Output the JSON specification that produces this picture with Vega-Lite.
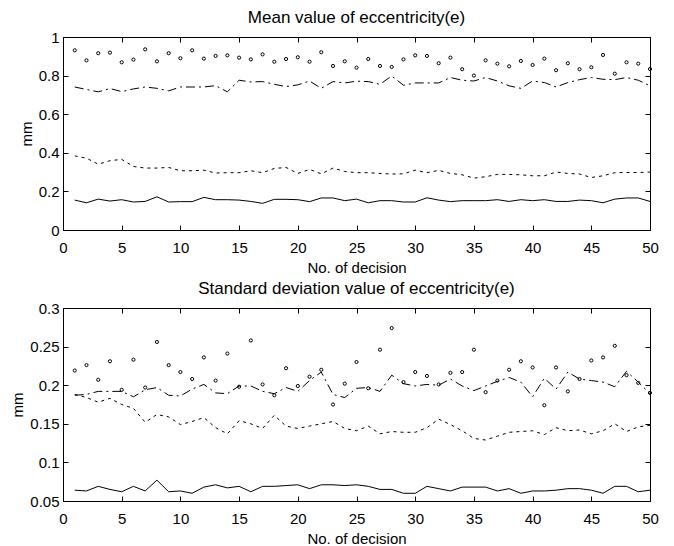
{
  "$schema": "https://vega.github.io/schema/vega-lite/v6.json",
  "background": "white",
  "padding": {"left": 10, "top": 8, "right": 5, "bottom": 2},
  "spacing": 3,
  "config": {
    "font": "Liberation Sans",
    "view": {"stroke": "black", "strokeWidth": 1},
    "axis": {
      "grid": false,
      "domain": false,
      "tickColor": "black",
      "tickSize": -5,
      "labelColor": "black",
      "labelFontSize": 15,
      "labelOverlap": false,
      "labelFlush": false,
      "titleColor": "black",
      "titleFontSize": 15,
      "titleFontWeight": "normal"
    },
    "axisX": {"labelPadding": 15},
    "axisY": {"labelPadding": 9},
    "title": {"fontSize": 17, "fontWeight": "normal", "color": "black", "offset": 3},
    "style": {"group-title": {"fontSize": 17, "fontWeight": "normal"}}
  },
  "datasets": {
    "mean": [
      {"x":1,"a":0.931,"b":0.741,"c":0.384,"d":0.155},
      {"x":2,"a":0.879,"b":0.728,"c":0.372,"d":0.141},
      {"x":3,"a":0.916,"b":0.716,"c":0.341,"d":0.160},
      {"x":4,"a":0.919,"b":0.733,"c":0.359,"d":0.150},
      {"x":5,"a":0.869,"b":0.717,"c":0.366,"d":0.157},
      {"x":6,"a":0.883,"b":0.731,"c":0.329,"d":0.145},
      {"x":7,"a":0.936,"b":0.741,"c":0.321,"d":0.148},
      {"x":8,"a":0.874,"b":0.734,"c":0.321,"d":0.172},
      {"x":9,"a":0.916,"b":0.721,"c":0.324,"d":0.145},
      {"x":10,"a":0.890,"b":0.741,"c":0.307,"d":0.147},
      {"x":11,"a":0.931,"b":0.741,"c":0.307,"d":0.147},
      {"x":12,"a":0.888,"b":0.741,"c":0.310,"d":0.169},
      {"x":13,"a":0.902,"b":0.748,"c":0.295,"d":0.157},
      {"x":14,"a":0.905,"b":0.716,"c":0.297,"d":0.157},
      {"x":15,"a":0.893,"b":0.776,"c":0.297,"d":0.155},
      {"x":16,"a":0.884,"b":0.767,"c":0.307,"d":0.148},
      {"x":17,"a":0.910,"b":0.769,"c":0.297,"d":0.138},
      {"x":18,"a":0.872,"b":0.755,"c":0.319,"d":0.159},
      {"x":19,"a":0.886,"b":0.743,"c":0.324,"d":0.159},
      {"x":20,"a":0.895,"b":0.752,"c":0.293,"d":0.157},
      {"x":21,"a":0.872,"b":0.772,"c":0.314,"d":0.147},
      {"x":22,"a":0.921,"b":0.734,"c":0.291,"d":0.166},
      {"x":23,"a":0.850,"b":0.769,"c":0.321,"d":0.166},
      {"x":24,"a":0.874,"b":0.762,"c":0.303,"d":0.152},
      {"x":25,"a":0.841,"b":0.771,"c":0.297,"d":0.160},
      {"x":26,"a":0.886,"b":0.769,"c":0.297,"d":0.141},
      {"x":27,"a":0.850,"b":0.755,"c":0.293,"d":0.152},
      {"x":28,"a":0.845,"b":0.798,"c":0.290,"d":0.152},
      {"x":29,"a":0.884,"b":0.750,"c":0.291,"d":0.145},
      {"x":30,"a":0.905,"b":0.762,"c":0.310,"d":0.145},
      {"x":31,"a":0.902,"b":0.762,"c":0.297,"d":0.167},
      {"x":32,"a":0.864,"b":0.762,"c":0.309,"d":0.155},
      {"x":33,"a":0.893,"b":0.790,"c":0.293,"d":0.147},
      {"x":34,"a":0.833,"b":0.776,"c":0.286,"d":0.152},
      {"x":35,"a":0.800,"b":0.772,"c":0.269,"d":0.152},
      {"x":36,"a":0.879,"b":0.790,"c":0.276,"d":0.152},
      {"x":37,"a":0.862,"b":0.772,"c":0.288,"d":0.157},
      {"x":38,"a":0.848,"b":0.747,"c":0.288,"d":0.148},
      {"x":39,"a":0.876,"b":0.734,"c":0.286,"d":0.157},
      {"x":40,"a":0.855,"b":0.772,"c":0.281,"d":0.152},
      {"x":41,"a":0.888,"b":0.764,"c":0.281,"d":0.157},
      {"x":42,"a":0.828,"b":0.741,"c":0.300,"d":0.148},
      {"x":43,"a":0.864,"b":0.764,"c":0.293,"d":0.148},
      {"x":44,"a":0.833,"b":0.779,"c":0.290,"d":0.155},
      {"x":45,"a":0.843,"b":0.790,"c":0.272,"d":0.152},
      {"x":46,"a":0.907,"b":0.781,"c":0.281,"d":0.141},
      {"x":47,"a":0.810,"b":0.779,"c":0.297,"d":0.160},
      {"x":48,"a":0.869,"b":0.790,"c":0.298,"d":0.166},
      {"x":49,"a":0.862,"b":0.776,"c":0.298,"d":0.166},
      {"x":50,"a":0.834,"b":0.747,"c":0.300,"d":0.148}
    ],
    "std": [
      {"x":1,"a":0.219,"b":0.187,"c":0.188,"d":0.064},
      {"x":2,"a":0.226,"b":0.188,"c":0.184,"d":0.063},
      {"x":3,"a":0.207,"b":0.192,"c":0.178,"d":0.069},
      {"x":4,"a":0.231,"b":0.192,"c":0.183,"d":0.065},
      {"x":5,"a":0.194,"b":0.192,"c":0.175,"d":0.062},
      {"x":6,"a":0.233,"b":0.185,"c":0.170,"d":0.069},
      {"x":7,"a":0.197,"b":0.194,"c":0.152,"d":0.063},
      {"x":8,"a":0.256,"b":0.197,"c":0.162,"d":0.077},
      {"x":9,"a":0.226,"b":0.187,"c":0.159,"d":0.062},
      {"x":10,"a":0.217,"b":0.186,"c":0.149,"d":0.063},
      {"x":11,"a":0.208,"b":0.195,"c":0.153,"d":0.060},
      {"x":12,"a":0.236,"b":0.201,"c":0.158,"d":0.068},
      {"x":13,"a":0.206,"b":0.190,"c":0.145,"d":0.071},
      {"x":14,"a":0.241,"b":0.189,"c":0.137,"d":0.067},
      {"x":15,"a":0.198,"b":0.199,"c":0.154,"d":0.069},
      {"x":16,"a":0.258,"b":0.199,"c":0.150,"d":0.062},
      {"x":17,"a":0.201,"b":0.192,"c":0.144,"d":0.069},
      {"x":18,"a":0.187,"b":0.189,"c":0.161,"d":0.069},
      {"x":19,"a":0.222,"b":0.197,"c":0.147,"d":0.070},
      {"x":20,"a":0.199,"b":0.192,"c":0.144,"d":0.071},
      {"x":21,"a":0.211,"b":0.206,"c":0.147,"d":0.066},
      {"x":22,"a":0.220,"b":0.217,"c":0.150,"d":0.071},
      {"x":23,"a":0.175,"b":0.188,"c":0.153,"d":0.071},
      {"x":24,"a":0.202,"b":0.184,"c":0.144,"d":0.070},
      {"x":25,"a":0.230,"b":0.196,"c":0.141,"d":0.071},
      {"x":26,"a":0.196,"b":0.197,"c":0.147,"d":0.069},
      {"x":27,"a":0.246,"b":0.192,"c":0.137,"d":0.065},
      {"x":28,"a":0.274,"b":0.213,"c":0.140,"d":0.065},
      {"x":29,"a":0.204,"b":0.202,"c":0.139,"d":0.060},
      {"x":30,"a":0.217,"b":0.199,"c":0.139,"d":0.060},
      {"x":31,"a":0.212,"b":0.201,"c":0.145,"d":0.069},
      {"x":32,"a":0.201,"b":0.200,"c":0.156,"d":0.066},
      {"x":33,"a":0.216,"b":0.208,"c":0.149,"d":0.063},
      {"x":34,"a":0.217,"b":0.199,"c":0.141,"d":0.068},
      {"x":35,"a":0.246,"b":0.193,"c":0.131,"d":0.068},
      {"x":36,"a":0.191,"b":0.199,"c":0.129,"d":0.068},
      {"x":37,"a":0.206,"b":0.205,"c":0.134,"d":0.063},
      {"x":38,"a":0.220,"b":0.210,"c":0.139,"d":0.066},
      {"x":39,"a":0.231,"b":0.204,"c":0.140,"d":0.060},
      {"x":40,"a":0.223,"b":0.185,"c":0.141,"d":0.063},
      {"x":41,"a":0.174,"b":0.209,"c":0.136,"d":0.063},
      {"x":42,"a":0.223,"b":0.195,"c":0.145,"d":0.064},
      {"x":43,"a":0.192,"b":0.217,"c":0.141,"d":0.066},
      {"x":44,"a":0.208,"b":0.208,"c":0.142,"d":0.066},
      {"x":45,"a":0.232,"b":0.206,"c":0.137,"d":0.064},
      {"x":46,"a":0.236,"b":0.204,"c":0.141,"d":0.060},
      {"x":47,"a":0.251,"b":0.198,"c":0.150,"d":0.069},
      {"x":48,"a":0.213,"b":0.218,"c":0.140,"d":0.069},
      {"x":49,"a":0.203,"b":0.204,"c":0.146,"d":0.062},
      {"x":50,"a":0.190,"b":0.189,"c":0.148,"d":0.064}
    ]
  },
  "vconcat": [
    {
      "title": {"text": "Mean value of eccentricity(e)", "fontSize": 17, "fontWeight": "normal", "color": "black", "offset": 3},
      "width": 587,
      "height": 193,
      "data": {"name": "mean"},
      "resolve": {"axis": {"x": "independent", "y": "independent"}},
      "layer": [
        {"mark": {"type": "line", "color": "black", "strokeWidth": 1},
         "encoding": {
           "x": {"field": "x", "type": "quantitative", "scale": {"domain": [0, 50], "nice": false},
                 "axis": {"values": [0,5,10,15,20,25,30,35,40,45,50], "title": "No. of decision", "titlePadding": 5, "labelOverlap": false}},
           "y": {"field": "d", "type": "quantitative", "scale": {"domain": [0, 1], "nice": false},
                 "axis": {"values": [0,0.2,0.4,0.6,0.8,1], "format": "~g", "title": "mm", "titlePadding": 4, "labelOverlap": false}}}},
        {"mark": {"type": "line", "color": "black", "strokeWidth": 1, "strokeDash": [3, 4]},
         "encoding": {"x": {"field": "x", "type": "quantitative", "axis": null},
                      "y": {"field": "c", "type": "quantitative", "axis": null}}},
        {"mark": {"type": "line", "color": "black", "strokeWidth": 1, "strokeDash": [9, 4, 2, 4]},
         "encoding": {"x": {"field": "x", "type": "quantitative", "axis": null},
                      "y": {"field": "b", "type": "quantitative", "axis": null}}},
        {"mark": {"type": "point", "shape": "circle", "size": 10, "color": "black", "filled": false, "strokeWidth": 1, "opacity": 1},
         "encoding": {"x": {"field": "x", "type": "quantitative", "axis": null},
                      "y": {"field": "a", "type": "quantitative", "axis": null}}},
        {"mark": {"type": "point", "opacity": 0},
         "encoding": {"x": {"field": "x", "type": "quantitative", "axis": {"orient": "top", "values": [0,5,10,15,20,25,30,35,40,45,50], "labels": false, "title": null}},
                      "y": {"field": "d", "type": "quantitative", "axis": {"orient": "right", "values": [0,0.2,0.4,0.6,0.8,1], "labels": false, "title": null}}}}
      ]
    },
    {
      "title": {"text": "Standard deviation value of eccentricity(e)", "fontSize": 17, "fontWeight": "normal", "color": "black", "offset": 3},
      "width": 587,
      "height": 193,
      "data": {"name": "std"},
      "resolve": {"axis": {"x": "independent", "y": "independent"}},
      "layer": [
        {"mark": {"type": "line", "color": "black", "strokeWidth": 1},
         "encoding": {
           "x": {"field": "x", "type": "quantitative", "scale": {"domain": [0, 50], "nice": false},
                 "axis": {"values": [0,5,10,15,20,25,30,35,40,45,50], "title": "No. of decision", "titlePadding": 5, "labelOverlap": false}},
           "y": {"field": "d", "type": "quantitative", "scale": {"domain": [0.05, 0.3], "nice": false},
                 "axis": {"values": [0.05,0.1,0.15,0.2,0.25,0.3], "format": "~g", "title": "mm", "titlePadding": 4, "labelOverlap": false}}}},
        {"mark": {"type": "line", "color": "black", "strokeWidth": 1, "strokeDash": [3, 4]},
         "encoding": {"x": {"field": "x", "type": "quantitative", "axis": null},
                      "y": {"field": "c", "type": "quantitative", "axis": null}}},
        {"mark": {"type": "line", "color": "black", "strokeWidth": 1, "strokeDash": [9, 4, 2, 4]},
         "encoding": {"x": {"field": "x", "type": "quantitative", "axis": null},
                      "y": {"field": "b", "type": "quantitative", "axis": null}}},
        {"mark": {"type": "point", "shape": "circle", "size": 10, "color": "black", "filled": false, "strokeWidth": 1, "opacity": 1},
         "encoding": {"x": {"field": "x", "type": "quantitative", "axis": null},
                      "y": {"field": "a", "type": "quantitative", "axis": null}}},
        {"mark": {"type": "point", "opacity": 0},
         "encoding": {"x": {"field": "x", "type": "quantitative", "axis": {"orient": "top", "values": [0,5,10,15,20,25,30,35,40,45,50], "labels": false, "title": null}},
                      "y": {"field": "d", "type": "quantitative", "axis": {"orient": "right", "values": [0.05,0.1,0.15,0.2,0.25,0.3], "labels": false, "title": null}}}}
      ]
    }
  ]
}
